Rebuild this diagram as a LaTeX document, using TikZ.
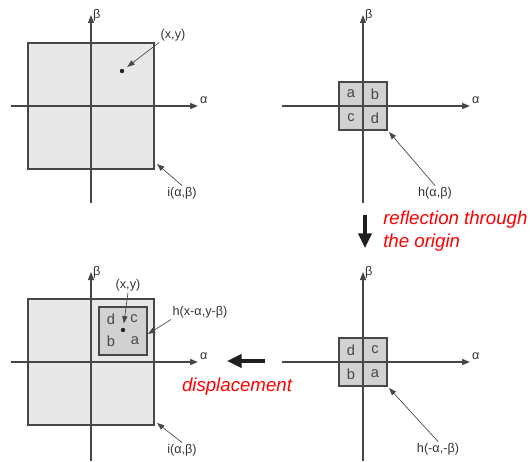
\documentclass[tikz,border=0pt]{standalone}
\usepackage{fontspec}
\setmainfont{Liberation Sans}
\usetikzlibrary{arrows.meta}

\begin{document}
\begin{tikzpicture}[
    x=0.75pt, y=0.75pt,
    axis/.style={draw=black!72, line width=1pt, -{Triangle[length=6pt,width=4.5pt]}},
    axislabel/.style={font=\fontsize{9.5}{10}\selectfont, text=black!80, inner sep=1pt},
    bigsq/.style={draw=black!72, line width=0.8pt, fill=black!9},
    smallsq/.style={draw=black!72, line width=0.8pt, fill=black!18},
    quad/.style={font=\fontsize{11}{12}\selectfont, text=black!72, inner sep=0pt},
    tag/.style={font=\fontsize{9.5}{11}\selectfont, text=black!80, inner sep=1pt},
    pointer/.style={draw=black!72, line width=0.5pt, -{Triangle[length=5.5pt,width=4pt]}},
    bigarrow/.style={draw=black!88, line width=2.3pt, -{Triangle[length=11pt,width=10pt]}},
    caption/.style={font=\fontsize{14}{17}\selectfont\itshape, text=red, align=left, inner sep=0pt}
]
\useasboundingbox (0,0) rectangle (530,461);

% top left: i(alpha,beta)
\begin{scope}[shift={(91,355)}]
    \draw[bigsq] (-63,-63) rectangle (63,63);
    \coordinate (tl-w) at (-80,0);
    \coordinate (tl-e) at (107,0);
    \coordinate (tl-s) at (0,-97);
    \coordinate (tl-n) at (0,91);
    \draw[axis] (tl-w) -- (tl-e) node[axislabel, anchor=south west] (tl-alpha) {α};
    \draw[axis] (tl-s) -- (tl-n) node[axislabel, anchor=west] (tl-beta) {β};
    \coordinate (tl-dot) at (31,35);
    \fill[black!85] (tl-dot) circle (2.2);
    \node[tag] (tl-xy) at (82,71) {(x,y)};
    \draw[pointer, shorten >=5pt] (tl-xy.south west) -- (tl-dot);
    \node[tag] (tl-i) at (91,-87) {i(α,β)};
    \coordinate (tl-tip) at (66,-58);
    \draw[pointer] (tl-i.north) -- (tl-tip);
\end{scope}

% top right: h(alpha,beta)
\begin{scope}[shift={(363,355)}]
    \draw[smallsq] (-24,-24) rectangle (24,24);
    \coordinate (tr-w) at (-81,0);
    \coordinate (tr-e) at (107,0);
    \coordinate (tr-s) at (0,-97);
    \coordinate (tr-n) at (0,91);
    \draw[axis] (tr-w) -- (tr-e) node[axislabel, anchor=south west] (tr-alpha) {α};
    \draw[axis] (tr-s) -- (tr-n) node[axislabel, anchor=west] (tr-beta) {β};
    \node[quad] (tr-a) at (-12,12) {a};
    \node[quad] (tr-b) at (12,12) {b};
    \node[quad] (tr-c) at (-12,-12) {c};
    \node[quad] (tr-d) at (12,-12) {d};
    \node[tag] (tr-h) at (72,-87) {h(α,β)};
    \coordinate (tr-tip) at (26,-26);
    \draw[pointer] (tr-h.north) -- (tr-tip);
\end{scope}

% bottom right: h(-alpha,-beta)
\begin{scope}[shift={(363,99)}]
    \draw[smallsq] (-24,-24) rectangle (24,24);
    \coordinate (br-w) at (-81,0);
    \coordinate (br-e) at (107,0);
    \coordinate (br-s) at (0,-99);
    \coordinate (br-n) at (0,90);
    \draw[axis] (br-w) -- (br-e) node[axislabel, anchor=south west] (br-alpha) {α};
    \draw[axis] (br-s) -- (br-n) node[axislabel, anchor=west] (br-beta) {β};
    \node[quad] (br-d) at (-12,12) {d};
    \node[quad] (br-c) at (12,12) {c};
    \node[quad] (br-b) at (-12,-12) {b};
    \node[quad] (br-a) at (12,-12) {a};
    \node[tag] (br-h) at (75,-87) {h(-α,-β)};
    \coordinate (br-tip) at (26,-26);
    \draw[pointer] (br-h.north) -- (br-tip);
\end{scope}

% bottom left: i(alpha,beta) with h(x-alpha,y-beta)
\begin{scope}[shift={(91,99)}]
    \draw[bigsq] (-63,-63) rectangle (63,63);
    \draw[smallsq] (8,7) rectangle (56,55);
    \coordinate (bl-w) at (-80,0);
    \coordinate (bl-e) at (107,0);
    \coordinate (bl-s) at (0,-99);
    \coordinate (bl-n) at (0,90);
    \draw[axis] (bl-w) -- (bl-e) node[axislabel, anchor=south west] (bl-alpha) {α};
    \draw[axis] (bl-s) -- (bl-n) node[axislabel, anchor=west] (bl-beta) {β};
    \node[quad] (bl-d) at (20,43) {d};
    \node[quad] (bl-c) at (43,43) {c};
    \node[quad] (bl-b) at (20,21) {b};
    \node[quad] (bl-a) at (44,21) {a};
    \coordinate (bl-dot) at (32,32);
    \fill[black!85] (bl-dot) circle (2.2);
    \node[tag] (bl-xy) at (37,77) {(x,y)};
    \draw[pointer, shorten >=5pt] (bl-xy.south) -- (bl-dot);
    \node[tag] (bl-h) at (109,50) {h(x-α,y-β)};
    \coordinate (bl-tip) at (57,28);
    \draw[pointer] (bl-h.south west) -- (bl-tip);
    \node[tag] (bl-i) at (91,-88) {i(α,β)};
    \coordinate (bl-corner) at (66,-61);
    \draw[pointer] (bl-i.north) -- (bl-corner);
\end{scope}

% the two steps
\coordinate (refl-top) at (365,246);
\coordinate (refl-bot) at (365,213);
\draw[bigarrow] (refl-top) -- (refl-bot);
\node[caption, anchor=west] (refl-text) at (383,229.5) {reflection through\\the origin};

\coordinate (disp-right) at (265,100);
\coordinate (disp-left) at (227,100);
\draw[bigarrow] (disp-right) -- (disp-left);
\node[caption] (disp-text) at (237,74) {displacement};
\end{tikzpicture}
\end{document}
